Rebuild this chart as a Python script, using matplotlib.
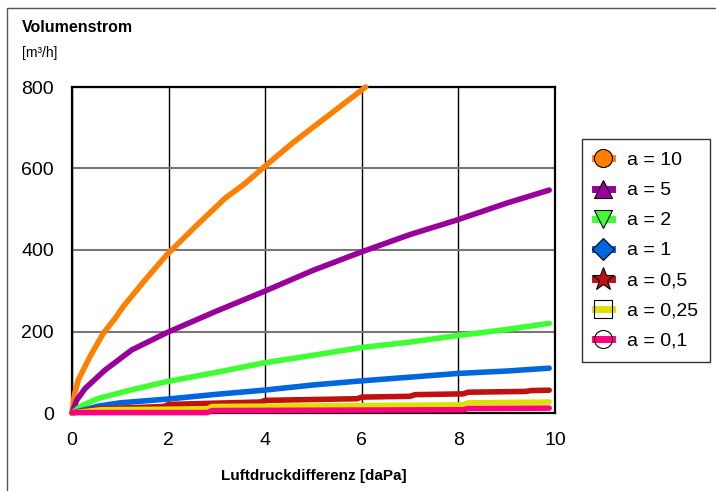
import matplotlib
matplotlib.use("Agg")
import matplotlib.pyplot as plt
from matplotlib.lines import Line2D
from matplotlib.patches import Rectangle

plt.rcParams['font.family'] = ['Liberation Sans', 'DejaVu Sans']

# values (x in daPa, y in m3/h)
x_a10 = [0, 0.05, 0.13, 0.37, 0.65, 0.89, 1.06, 1.51, 1.96, 2.31, 2.55, 3.17, 3.59, 3.97, 4.56, 5.01, 6.08]
y_a10 = [0, 45, 81, 138, 196, 232, 261, 326, 388, 429, 457, 527, 564, 603, 662, 703, 800]

x_a5 = [0, 0.1, 0.27, 0.68, 1.24, 1.96, 2.97, 3.97, 5.01, 6.01, 7.0, 7.98, 9.0, 9.88]
y_a5 = [0, 32, 60, 105, 155, 197, 249, 298, 351, 396, 438, 474, 515, 547]

x_a2 = [0, 0.2, 0.55, 1.2, 1.96, 3.0, 3.97, 5.01, 6.01, 7.0, 7.98, 9.0, 9.88]
y_a2 = [0, 18, 36, 56, 77, 100, 123, 142, 161, 174, 190, 205, 220]

x_a1 = [0, 0.55, 1.0, 1.96, 3.0, 3.97, 5.01, 6.01, 7.0, 7.98, 9.0, 9.88]
y_a1 = [0, 17, 25, 34, 46, 56, 69, 79, 88, 97, 103, 110]

x_a05 = [0, 0.5, 1.9, 2.0, 3.9, 4.0, 5.9, 6.0, 7.0, 7.1, 8.1, 8.2, 9.4, 9.5, 9.88]
y_a05 = [0, 10, 16, 21, 27, 31, 35, 39, 41, 45, 47, 51, 53, 55, 56]

x_a025 = [0, 0.6, 2.8, 2.9, 8.1, 8.2, 9.88]
y_a025 = [0, 8, 10, 16, 20, 25, 27]

x_a01 = [0, 2.8, 2.9, 8.1, 8.2, 9.88]
y_a01 = [1, 1, 6, 8, 11, 12]

labels = ['a = 10', 'a = 5', 'a = 2', 'a = 1', 'a = 0,5', 'a = 0,25', 'a = 0,1']
colors = ['#FF8000', '#990099', '#3FFF33', '#0066DD', '#C01010', '#E0E000', '#FF0080']
markers = ['o', '^', 'v', 'D', '*', 's', 'o']
series = [(x_a10, y_a10), (x_a5, y_a5), (x_a2, y_a2), (x_a1, y_a1),
          (x_a05, y_a05), (x_a025, y_a025), (x_a01, y_a01)]

fig = plt.figure(figsize=(7.16, 4.91), dpi=100)
ax = fig.add_axes([72/716, 1-413/491, (555-72)/716, (413-87)/491])

for (xs, ys), c in zip(series, colors):
    ax.plot(xs, ys, color=c, lw=4, solid_capstyle='round', solid_joinstyle='round', clip_on=False, zorder=3)

ax.set_xlim(0, 10)
ax.set_ylim(0, 800)
ax.set_xticks([0, 2, 4, 6, 8, 10])
ax.set_yticks([0, 200, 400, 600, 800])
ax.tick_params(length=0, labelsize=14, pad=13)
ax.tick_params(axis='x', pad=14)
ax.yaxis.grid(True, color='#777777', lw=1.5)
ax.xaxis.grid(True, color='black', lw=1)
ax.set_axisbelow(True)
for s in ax.spines.values():
    s.set_linewidth(1.6)
    s.set_color('black')

ax.set_xlabel('Luftdruckdifferenz [daPa]', fontsize=11, fontweight='bold', labelpad=14)
fig.text(22/716, 1-28/491, 'Volumenstrom', fontsize=11.5, fontweight='bold', va='center', ha='left')
fig.text(22/716, 1-53/491, '[m³/h]', fontsize=10, va='center', ha='left')

handles = []
for i, (c, m) in enumerate(zip(colors, markers)):
    face = 'none' if i >= 5 else c
    ms = 17 if m == '*' else 13
    if m == 'D':
        ms = 11
    handles.append(Line2D([], [], color=c, lw=5, marker=m, markersize=ms,
                          markerfacecolor=face, markeredgecolor='black', markeredgewidth=0.8))
leg = fig.legend(handles, labels, loc='upper left', bbox_to_anchor=(582/716, 1-139/491),
                 borderaxespad=0, fontsize=14, frameon=True, fancybox=False, edgecolor='black',
                 handlelength=0.9, handletextpad=0.75, labelspacing=0.64, borderpad=0.65)
leg.get_frame().set_linewidth(1)

fig.add_artist(Rectangle((7/716, -0.01), 1.0, (491-8)/491+0.01, fill=False,
                         transform=fig.transFigure, lw=1, edgecolor='#555555'))

fig.savefig('out.png', dpi=100)
